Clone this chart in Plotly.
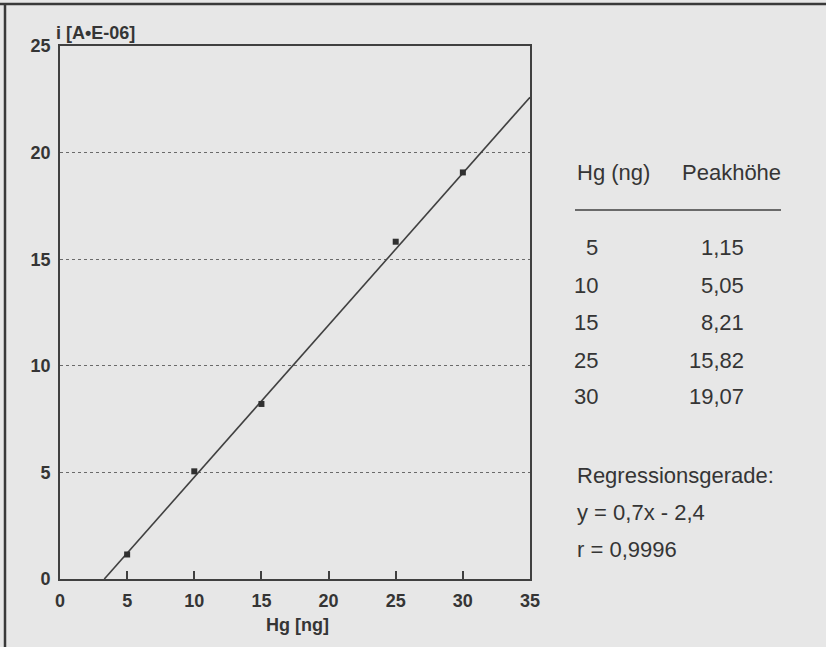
import plotly.graph_objects as go

# ---- data ----
hg_ng = [5, 10, 15, 25, 30]
peak = [1.15, 5.05, 8.21, 15.82, 19.07]
peak_labels = ["1,15", "5,05", "8,21", "15,82", "19,07"]
reg_x = [3.3, 35]          # regression line end points
reg_y = [0.0, 22.6]
x_ticks = [0, 5, 10, 15, 20, 25, 30, 35]
y_ticks = [0, 5, 10, 15, 20, 25]

W, H = 826, 647
L, R, T, B = 60, 296, 46, 68
PW, PH = W - L - R, H - T - B

def px(X):
    return (X - L) / PW

def py(Y):
    return (H - B - Y) / PH

TXT = "#353535"
LINE = "#404040"
BG = "#e7e7e7"
FONT = "Liberation Sans, Arial, sans-serif"

fig = go.Figure()
fig.add_trace(go.Scatter(x=reg_x, y=reg_y, mode="lines",
                         line=dict(color=LINE, width=1.6), hoverinfo="skip"))
fig.add_trace(go.Scatter(x=hg_ng, y=peak, mode="markers",
                         marker=dict(symbol="square", size=6, color="#303030")))

fig.update_layout(
    width=W, height=H,
    margin=dict(l=L, r=R, t=T, b=B),
    paper_bgcolor=BG, plot_bgcolor=BG,
    showlegend=False,
    font=dict(family=FONT, color=TXT),
)
fig.update_xaxes(range=[0, 35], tickvals=x_ticks, ticktext=[str(v) for v in x_ticks],
                 showgrid=False, zeroline=False,
                 showline=True, mirror=True, linecolor=LINE, linewidth=1.6,
                 ticks="inside", ticklen=8, tickwidth=1.5, tickcolor=LINE,
                 tickfont=dict(size=18, weight="bold", color=TXT, family=FONT),
                 ticklabelstandoff=5)
fig.update_yaxes(range=[0, 25], tickvals=y_ticks, ticktext=[str(v) for v in y_ticks],
                 showgrid=True, gridcolor="#6a6a6a", gridwidth=1, griddash="dot",
                 zeroline=False,
                 showline=True, mirror=True, linecolor=LINE, linewidth=1.6,
                 ticks="", tickfont=dict(size=18, weight="bold", color=TXT, family=FONT),
                 ticklabelstandoff=4)

ann = []
# axis titles
ann.append(dict(text="i [A•E-06]", x=px(54), y=py(33), xanchor="left", yanchor="middle",
                font=dict(size=18, weight="bold", color=TXT)))
ann.append(dict(text="Hg [ng]", x=px(297), y=py(625), xanchor="center", yanchor="middle",
                font=dict(size=18, weight="bold", color=TXT)))
# table header
ann.append(dict(text="Hg (ng)", x=px(575), y=py(172), xanchor="left", yanchor="middle",
                font=dict(size=22, color=TXT)))
ann.append(dict(text="Peakhöhe", x=px(680), y=py(172), xanchor="left", yanchor="middle",
                font=dict(size=22, color=TXT)))
row_y = [247, 285, 322, 360, 397]
for hg, lab, yy in zip(hg_ng, peak_labels, row_y):
    ann.append(dict(text=str(hg), x=px(600), y=py(yy), xanchor="right", yanchor="middle",
                    font=dict(size=22, color=TXT)))
    ann.append(dict(text=lab, x=px(746), y=py(yy), xanchor="right", yanchor="middle",
                    font=dict(size=22, color=TXT)))
ann.append(dict(text="Regressionsgerade:", x=px(575), y=py(475), xanchor="left", yanchor="middle",
                font=dict(size=22, color=TXT)))
ann.append(dict(text="y = 0,7x - 2,4", x=px(575), y=py(512), xanchor="left", yanchor="middle",
                font=dict(size=22, color=TXT)))
ann.append(dict(text="r = 0,9996", x=px(575), y=py(549), xanchor="left", yanchor="middle",
                font=dict(size=22, color=TXT)))
for a in ann:
    a.update(xref="paper", yref="paper", showarrow=False)
fig.update_layout(annotations=ann)

shapes = [
    dict(type="line", xref="paper", yref="paper", x0=px(575), x1=px(781), y0=py(210), y1=py(210),
         line=dict(color=LINE, width=1.5)),
    dict(type="line", xref="paper", yref="paper", x0=px(0), x1=px(W), y0=py(4), y1=py(4),
         line=dict(color="#3a3a3a", width=2.5)),
    dict(type="line", xref="paper", yref="paper", x0=px(5), x1=px(5), y0=py(3), y1=py(H),
         line=dict(color="#3a3a3a", width=2.5)),
]
fig.update_layout(shapes=shapes)

fig.write_html("out.html")
